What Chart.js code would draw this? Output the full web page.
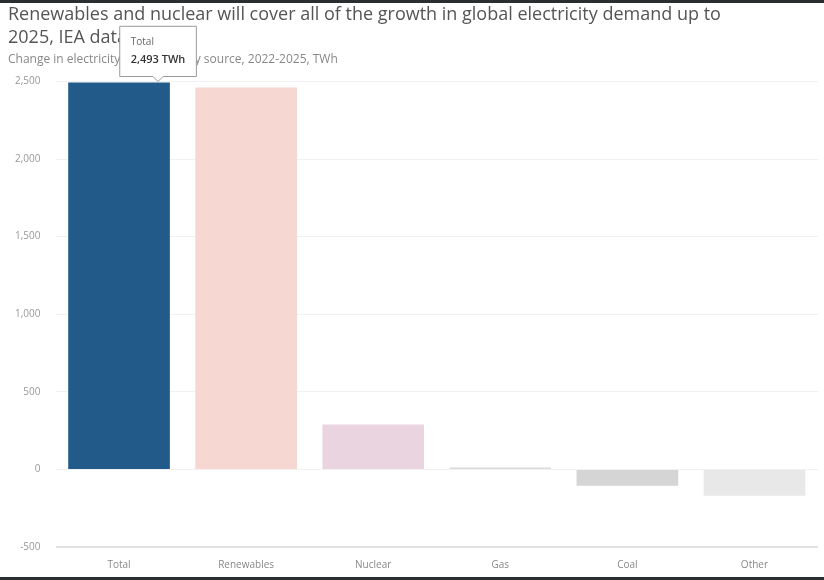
<!DOCTYPE html>
<html>
<head>
<meta charset="utf-8">
<script src="https://cdn.jsdelivr.net/npm/chart.js@4/dist/chart.umd.min.js"></script>
<style>
  html, body { margin: 0; padding: 0; background: #2a2e33; }
  #wrap { position: absolute; left: 0; top: 3px; width: 824px; height: 574px; background: #fff; }
</style>
</head>
<body>
<div id="wrap"><canvas id="chart" width="824" height="574"></canvas></div>
<script>
// Text
var titleLines = ["Renewables and nuclear will cover all of the growth in global electricity demand up to",
                  "2025, IEA data"];
var subtitleText = "Change in electricity generation by source, 2022-2025, TWh";
var unitLabel = "TWh";

// Data (TWh change 2022-2025)
var categories = ["Total", "Renewables", "Nuclear", "Gas", "Coal", "Other"];
var changeValues = [2493, 2460, 290, 12, -105, -170];
var barColors = ["#225b89", "#f6d7d2", "#e9d4df", "#d9d9d9", "#d5d5d5", "#e8e8e8"];

// Axis
var yTicks = [-500, 0, 500, 1000, 1500, 2000, 2500];

var fontFamily = "'Open Sans', 'Noto Sans', sans-serif";

// Tooltip placed a little right of the hovered bar, caret pointing to its top
Chart.Tooltip.positioners.barTop = function(items) {
    if (!items.length) return false;
    var el = items[0].element;
    return { x: el.x + 39, y: el.y - 1 };
};

function fmt(v) {
    return v.toLocaleString("en-US");
}

var ctx = document.getElementById('chart');
var chart = new Chart(ctx, {
    type: 'bar',
    data: {
        labels: categories,
        datasets: [{
            data: changeValues,
            backgroundColor: barColors,
            borderWidth: 0,
            categoryPercentage: 1.0,
            barPercentage: 0.8,
        }]
    },
    options: {
        responsive: false,
        animation: false,
        events: [],
        layout: { padding: { left: 8, right: 6, top: 0, bottom: 2 } },
        plugins: {
            legend: { display: false },
            title: {
                display: true,
                text: titleLines,
                align: 'start',
                color: '#555',
                font: { family: fontFamily, size: 18, weight: 'normal', lineHeight: 1.25 },
                padding: { top: 1, bottom: 3 },
            },
            subtitle: {
                display: true,
                text: subtitleText,
                align: 'start',
                color: '#888',
                font: { family: fontFamily, size: 12, weight: 'normal' },
                padding: { top: 0, bottom: 15 },
            },
            tooltip: {
                enabled: true,
                position: 'barTop',
                yAlign: 'bottom',
                xAlign: 'center',
                backgroundColor: '#fff',
                borderColor: '#9a9a9a',
                borderWidth: 1,
                cornerRadius: 0,
                caretSize: 5,
                caretPadding: 0,
                padding: { x: 11, y: 10 },
                displayColors: false,
                titleColor: '#666',
                titleFont: { family: fontFamily, size: 10, weight: 'normal' },
                titleMarginBottom: 5,
                bodyColor: '#333',
                bodyFont: { family: fontFamily, size: 11, weight: '600' },
                callbacks: {
                    label: function(item) { return fmt(item.raw) + " " + unitLabel; }
                }
            }
        },
        scales: {
            x: {
                grid: { display: false },
                border: { display: false },
                ticks: {
                    color: '#888',
                    font: { family: fontFamily, size: 10 },
                    padding: 4,
                }
            },
            y: {
                min: yTicks[0],
                max: yTicks[yTicks.length - 1],
                afterBuildTicks: function(axis) {
                    axis.ticks = yTicks.map(function(v) { return { value: v }; });
                },
                // fixed axis width so the plot starts where the original does
                afterFit: function(axis) {
                    axis.width = 47.5;
                },
                border: { display: false },
                grid: {
                    drawTicks: false,
                    color: function(c) { return c.tick && c.tick.value === yTicks[0] ? '#e2e2e2' : '#f1f1f1'; },
                    lineWidth: function(c) { return c.tick && c.tick.value === yTicks[0] ? 2 : 1; },
                },
                ticks: {
                    color: '#999',
                    font: { family: fontFamily, size: 10 },
                    padding: 15,
                    callback: function(v) { return fmt(v); }
                }
            }
        }
    }
});

chart.tooltip.setActiveElements([{ datasetIndex: 0, index: 0 }], { x: 0, y: 0 });
chart.update();
</script>
</body>
</html>
